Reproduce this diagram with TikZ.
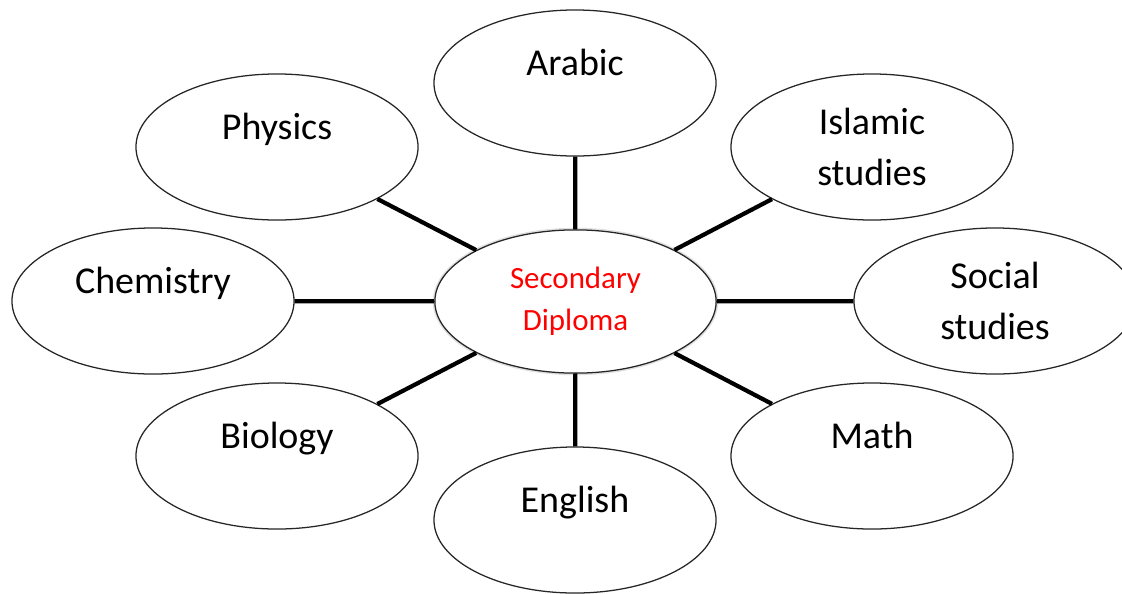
\documentclass[tikz,border=0pt]{standalone}
\usepackage{fontspec}
\setmainfont{Carlito}
\usetikzlibrary{shapes}

\begin{document}
\begin{tikzpicture}[x=0.025cm,y=-0.025cm]
        \tikzstyle{subject}=[ellipse,draw=black!85,line width=0.9pt,fill=white,inner sep=0pt,minimum width=7.05cm,minimum height=3.65cm,align=center,font=\fontsize{27}{36}\selectfont]
        \tikzstyle{oneline}=[text height=20pt,text depth=30pt]
        \tikzstyle{link}=[line width=3pt]
        \useasboundingbox (0,0) rectangle (1122,593);
        \node[subject,minimum width=7.03cm,minimum height=3.58cm,text=red,font=\fontsize{22}{30}\selectfont,preaction={draw=black!12,line width=3pt}] (diploma) at (575.5,301.5) {Secondary\\Diploma};
        \node[subject,oneline] (arabic) at (575,83) {Arabic};
        \node[subject,oneline] (physics) at (277,147) {Physics};
        \node[subject] (islamic) at (872,147) {Islamic\\studies};
        \node[subject,oneline] (chemistry) at (153,301) {Chemistry};
        \node[subject] (social) at (995,301) {Social\\studies};
        \node[subject,oneline] (biology) at (277,456) {Biology};
        \node[subject,oneline] (math) at (872,456) {Math};
        \node[subject,oneline] (english) at (575,520) {English};
        \foreach \s in {arabic,physics,islamic,chemistry,social,biology,math,english}
            \draw[link] (diploma) -- (\s);
\end{tikzpicture}
\end{document}
